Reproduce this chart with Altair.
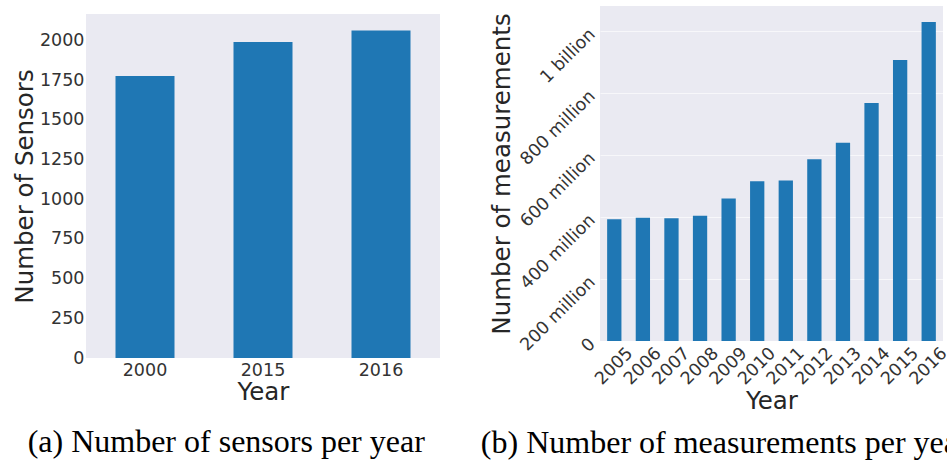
import altair as alt
import pandas as pd

# Panel (a): sensors per year
sensor_years = ["2000", "2015", "2016"]
sensor_counts = [1775, 1990, 2063]
sensor_ticks = [0, 250, 500, 750, 1000, 1250, 1500, 1750, 2000]

# Panel (b): measurements per year
measurement_years = ["2005", "2006", "2007", "2008", "2009", "2010",
                     "2011", "2012", "2013", "2014", "2015", "2016"]
measurement_counts = [393e6, 398e6, 396e6, 404e6, 460e6, 516e6,
                      518e6, 587e6, 640e6, 768e6, 907e6, 1030e6]
measurement_ticks = [0, 200e6, 400e6, 600e6, 800e6, 1000e6]
measurement_tick_labels = ["0", "200 million", "400 million", "600 million",
                           "800 million", "1 billion"]

caption_a = "(a) Number of sensors per year"
caption_b = "(b) Number of measurements per year"

BLUE = "#1f77b4"
BG = "#EAEAF2"
SERIF = "Liberation Serif"

band = alt.Scale(paddingInner=0.5, paddingOuter=0.25)

sensors = pd.DataFrame({"Year": sensor_years, "Sensors": sensor_counts})
measurements = pd.DataFrame({"Year": measurement_years,
                             "Measurements": measurement_counts})

left = alt.Chart(sensors).mark_bar(color=BLUE).encode(
    x=alt.X("Year:N", sort=None, title="Year", scale=band,
            axis=alt.Axis(labelAngle=0, labelPadding=3, titlePadding=2)),
    y=alt.Y("Sensors:Q", title="Number of Sensors",
            scale=alt.Scale(domain=[0, max(sensor_counts) * 1.05], nice=False),
            axis=alt.Axis(values=sensor_ticks, format="d", labelPadding=2,
                          titlePadding=2, grid=False)),
).properties(width=354, height=344)

# empty white strip that drops panel (a) a little below panel (b)
spacer = alt.Chart(sensors).mark_rule(opacity=0).encode(
    x=alt.value(0), y=alt.value(0)
).properties(width=354, height=1, view=alt.ViewBackground(fill="white", stroke=None))

left_block = alt.vconcat(spacer, left, spacing=7).properties(
    title=alt.TitleParams(caption_a, orient="bottom", anchor="middle",
                          offset=23, font=SERIF, fontSize=32,
                          fontWeight="normal", color="black")
)

label_map = "{" + ", ".join(
    f"'{int(v)}': '{t}'" for v, t in zip(measurement_ticks, measurement_tick_labels)
) + "}"

right = alt.Chart(measurements).mark_bar(color=BLUE).encode(
    x=alt.X("Year:N", sort=None, title="Year", scale=band,
            axis=alt.Axis(labelAngle=315, labelAlign="center",
                          labelBaseline="middle", labelPadding=25,
                          labelOverlap=False, titlePadding=2)),
    y=alt.Y("Measurements:Q", title="Number of measurements",
            scale=alt.Scale(domain=[0, max(measurement_counts) * 1.05], nice=False),
            axis=alt.Axis(values=measurement_ticks,
                          labelExpr=f"{label_map}[format(datum.value, 'd')]",
                          labelAngle=315, labelAlign="right",
                          labelBaseline="middle", labelPadding=8,
                          labelOverlap=False,
                          titlePadding=2, grid=True, gridColor="white",
                          gridOpacity=0.6, gridWidth=1.2)),
).properties(
    width=343, height=335,
    title=alt.TitleParams(caption_b, orient="bottom", anchor="start",
                          dx=-9, offset=15, font=SERIF, fontSize=32,
                          fontWeight="normal", color="black"),
)

# the long caption runs past the right edge of the page and is cut there
chart = alt.hconcat(left_block, right, spacing=40).properties(
    padding={"left": 12, "top": 6, "right": -22, "bottom": 0}
).configure_view(
    fill=BG, stroke=None
).configure_axis(
    domain=False, ticks=False,
    labelFont="DejaVu Sans", labelFontSize=17.5, labelColor="#333333",
    titleFont="DejaVu Sans", titleFontSize=24.5, titleFontWeight="normal",
    titleColor="#262626",
)

chart.save("out.html", embed_options={"renderer": "svg", "actions": False})
